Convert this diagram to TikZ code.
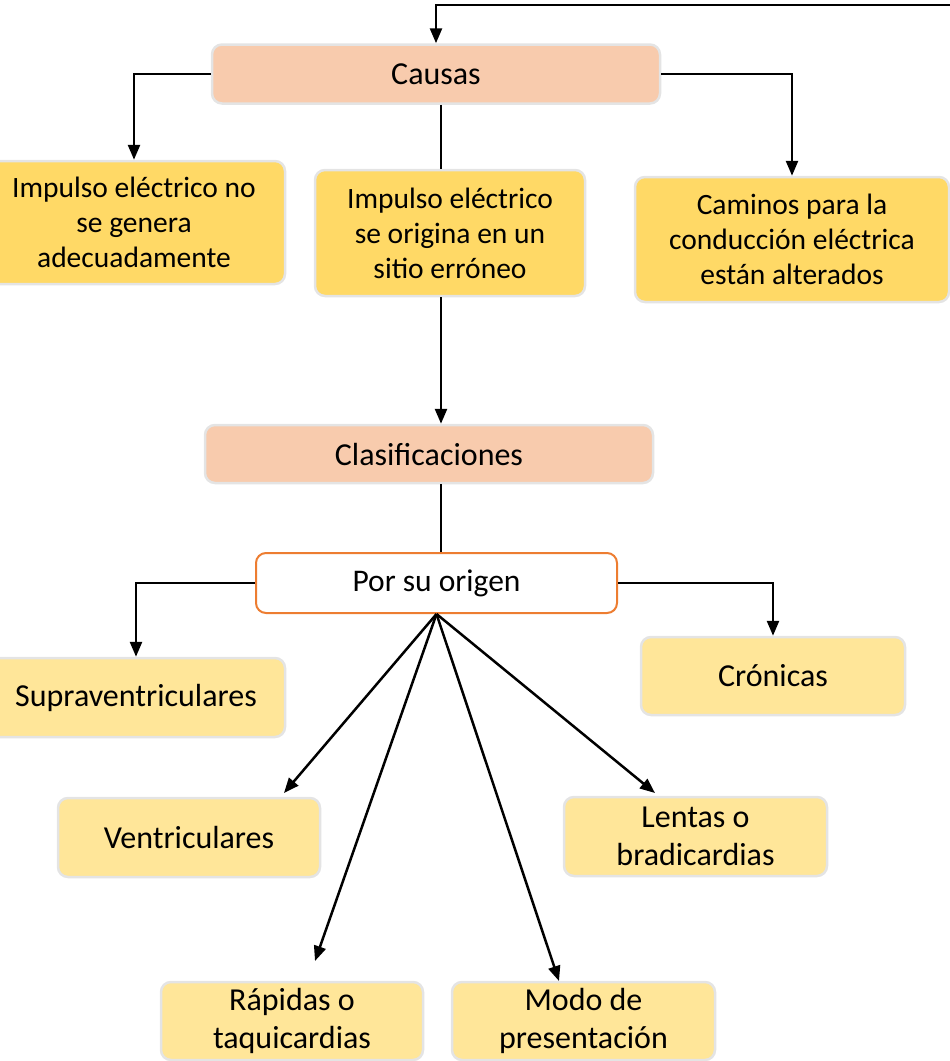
\documentclass[tikz,border=0pt]{standalone}
\usepackage{fontspec}
\setmainfont{Carlito}
\usetikzlibrary{arrows.meta}
\definecolor{peach}{HTML}{F8CBAD}
\definecolor{gold}{HTML}{FFD966}
\definecolor{lgold}{HTML}{FFE699}
\definecolor{edgegray}{HTML}{E4E4E4}
\definecolor{orng}{HTML}{ED7D31}
\begin{document}
\begin{tikzpicture}[x=1pt,y=-1pt,
  box/.style={rounded corners=10pt, draw=edgegray, line width=2.5pt, align=center,
    inner sep=0pt, font=\fontsize{29.5}{35}\selectfont},
  peachbox/.style={box, fill=peach, font=\fontsize{32}{38}\selectfont},
  goldbox/.style={box, fill=gold},
  lgoldbox/.style={box, fill=lgold, font=\fontsize{32}{38}\selectfont},
  whitebox/.style={box, fill=white, draw=orng, line width=2pt, font=\fontsize{31.5}{38}\selectfont},
  arr/.style={line width=2.5pt, -{Triangle[length=15pt,width=12pt]}},
  thinline/.style={line width=1.1pt}]
\useasboundingbox (0,0) rectangle (950,1061);
\clip (0,0) rectangle (950,1061);

% nodes
\node[peachbox, minimum width=448pt, minimum height=59pt] (causas) at (436,74) {Causas};
\node[goldbox, minimum width=302pt, minimum height=123pt] (imp1) at (134,222.5) {Impulso eléctrico no\\se genera\\adecuadamente};
\node[goldbox, minimum width=270pt, minimum height=126pt] (imp2) at (450,233) {Impulso eléctrico\\se origina en un\\sitio erróneo};
\node[goldbox, minimum width=314pt, minimum height=125pt] (cam) at (792,239.5) {Caminos para la\\conducción eléctrica\\están alterados};
\node[peachbox, minimum width=448pt, minimum height=58pt] (clas) at (429,454) {Clasificaciones};
\node[whitebox, minimum width=361pt, minimum height=60pt] (pso) at (436.5,583) {Por su origen};
\node[lgoldbox, minimum width=298pt, minimum height=79pt] (sup) at (136,697.5) {Supraventriculares};
\node[lgoldbox, minimum width=264pt, minimum height=78pt] (cron) at (773,676) {Crónicas};
\node[lgoldbox, minimum width=262pt, minimum height=79pt] (vent) at (189,837.5) {Ventriculares};
\node[lgoldbox, minimum width=263pt, minimum height=79pt] (lent) at (695.5,836.5) {Lentas o\\bradicardias};
\node[lgoldbox, minimum width=262pt, minimum height=78pt] (rap) at (292,1021) {Rápidas o\\taquicardias};
\node[lgoldbox, minimum width=263pt, minimum height=78pt] (modo) at (583.5,1021) {Modo de\\presentación};

% helper coordinates
\coordinate (topR) at (952,5);
\coordinate (spine) at (441,0);
\coordinate (t1) at (284,793);
\coordinate (t2) at (315,961);
\coordinate (t3) at (559,981);
\coordinate (t4) at (655,793);

% connectors
\draw[arr] (topR) -| (causas.north);
\draw[arr] (causas.west) -| (imp1.north);
\draw[arr] (causas.east) -| (cam.north);
\draw[thinline] (causas.south -| spine) -- (imp2.north -| spine);
\draw[arr] (imp2.south -| spine) -- (clas.north -| spine);
\draw[thinline] (clas.south -| spine) -- (pso.north -| spine);
\draw[arr] (pso.west) -| (sup.north);
\draw[arr] (pso.east) -| (cron.north);
\draw[arr] (pso.south) -- (t1);
\draw[arr] (pso.south) -- (t2);
\draw[arr] (pso.south) -- (t3);
\draw[arr] (pso.south) -- (t4);
\end{tikzpicture}
\end{document}
